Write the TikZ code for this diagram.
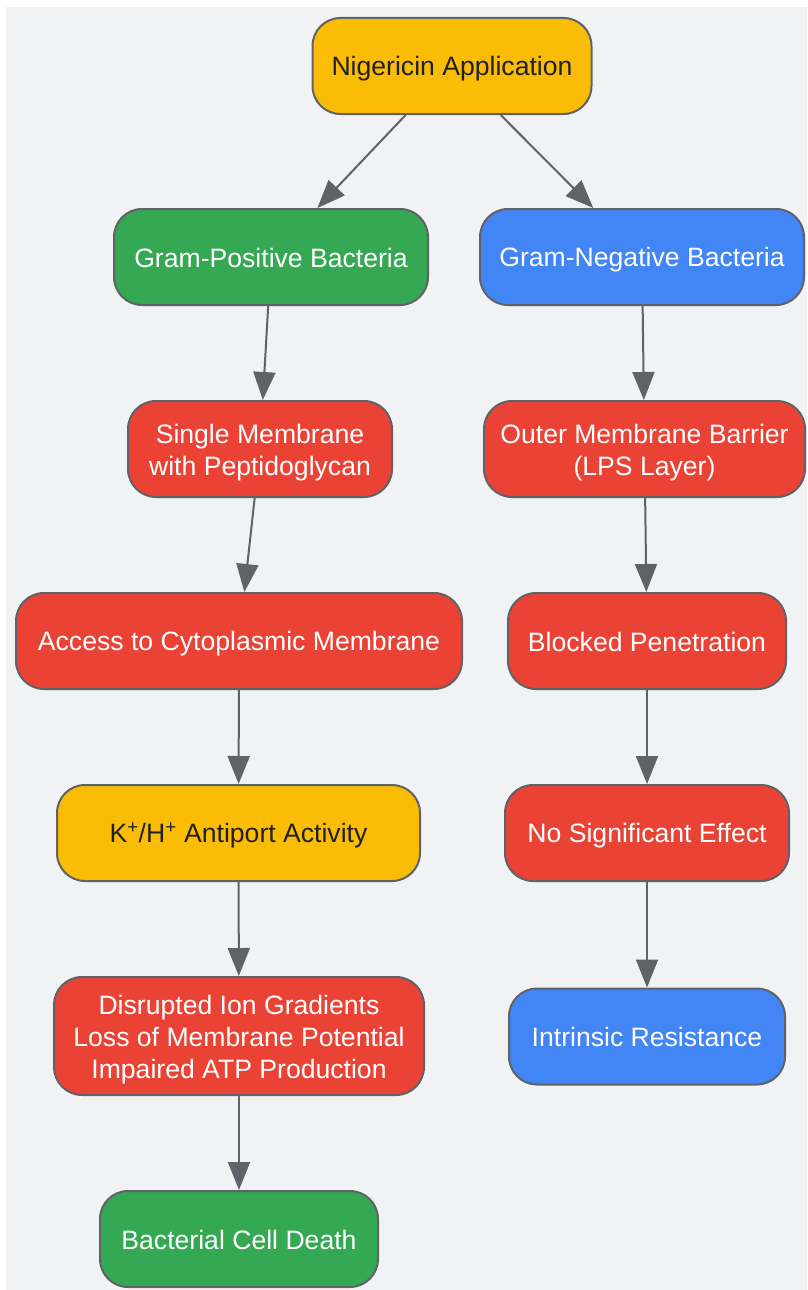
\documentclass[tikz,border=0pt]{standalone}
\usepackage{fontspec}
\setmainfont{Liberation Sans}
\usetikzlibrary{arrows.meta}
\definecolor{bgc}{HTML}{F1F2F4}
\definecolor{ylw}{HTML}{FBBC05}
\definecolor{grn}{HTML}{34A853}
\definecolor{blu}{HTML}{4285F4}
\definecolor{rd}{HTML}{EA4335}
\definecolor{edge}{HTML}{5F6368}
\definecolor{dark}{HTML}{202124}
\newcommand\mystrut{\rule[-5pt]{0pt}{30pt}}
\newcommand\topstrut{\rule{0pt}{27pt}}
\newcommand\botstrut{\rule[-5pt]{0pt}{5pt}}
\tikzset{
  box/.style={draw=edge, line width=2pt, rounded corners=28pt, minimum height=96pt,
    inner sep=0pt, align=center, font=\fontsize{26.6}{32}\selectfont},
  yel/.style={box, fill=ylw, text=dark},
  gre/.style={box, fill=grn, text=white},
  blb/.style={box, fill=blu, text=white},
  red/.style={box, fill=rd, text=white},
  conn/.style={draw=edge, line width=2pt, -{Triangle[length=28pt,width=22pt]}}
}
\begin{document}
\begin{tikzpicture}[x=1pt,y=-1pt]
\useasboundingbox (0,0) rectangle (807,1290);
\fill[white] (0,0) rectangle (807,1290);
\fill[bgc] (6,7) rectangle (807,1290);

\node[yel, minimum width=279pt] (nig) at (452,66) {\mystrut Nigericin Application};
\node[gre, minimum width=314pt] (gp) at (271,257) {\mystrut Gram-Positive Bacteria};
\node[blb, minimum width=324pt] (gn) at (642,257) {\mystrut Gram-Negative Bacteria};
\node[red, minimum width=264pt] (sm) at (260,449) {\topstrut Single Membrane\\with Peptidoglycan\botstrut};
\node[red, minimum width=321pt] (om) at (644.5,449) {\topstrut Outer Membrane Barrier\\(LPS Layer)\botstrut};
\node[red, minimum width=446pt] (ac) at (239,641) {\mystrut Access to Cytoplasmic Membrane};
\node[red, minimum width=278pt] (bp) at (647,641) {\mystrut Blocked Penetration};
\node[yel, minimum width=363pt] (kh) at (238.5,833) {\mystrut K\textsuperscript{+}/H\textsuperscript{+} Antiport Activity};
\node[red, minimum width=284pt] (ns) at (647,833) {\mystrut No Significant Effect};
\node[red, minimum width=370pt, minimum height=118pt] (dis) at (239,1036) {\topstrut Disrupted Ion Gradients\\Loss of Membrane Potential\\Impaired ATP Production\botstrut};
\node[blb, minimum width=276pt] (ir) at (647,1036.5) {\mystrut Intrinsic Resistance};
\node[gre, minimum width=278pt] (bcd) at (239,1239) {\mystrut Bacterial Cell Death};

\draw[conn] (nig) -- (gp);
\draw[conn] (nig) -- (gn);
\draw[conn] (gp) -- (sm);
\draw[conn] (sm) -- (ac);
\draw[conn] (ac) -- (kh);
\draw[conn] (kh) -- (dis);
\draw[conn] (dis) -- (bcd);
\draw[conn] (gn) -- (om);
\draw[conn] (om) -- (bp);
\draw[conn] (bp) -- (ns);
\draw[conn] (ns) -- (ir);
\end{tikzpicture}
\end{document}
